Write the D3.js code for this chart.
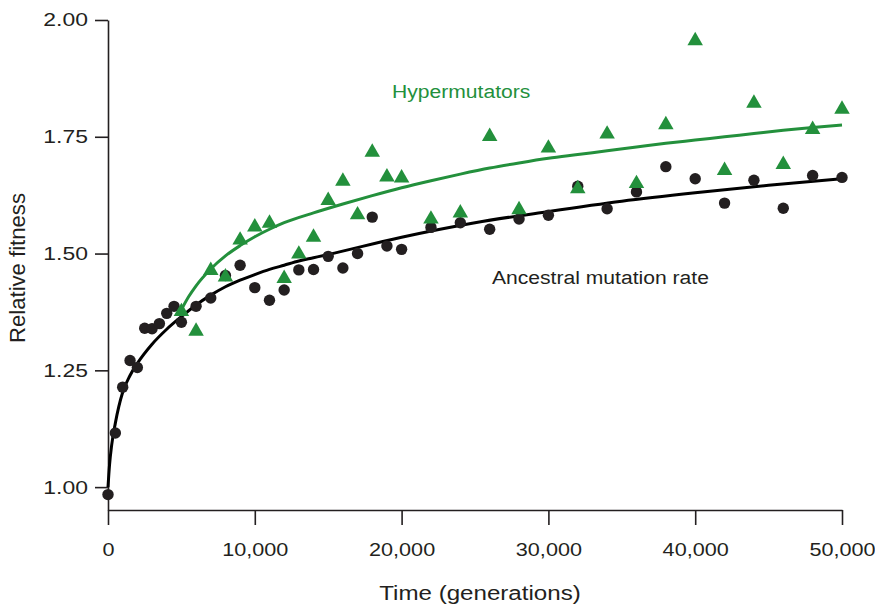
<!DOCTYPE html>
<html>
<head>
<meta charset="utf-8">
<script src="https://cdn.jsdelivr.net/npm/d3@7"></script>
<style>
  html, body { margin: 0; padding: 0; background: #fff; }
  svg { display: block; }
  text { font-family: "Liberation Sans", Arial, Helvetica, sans-serif; }
</style>
</head>
<body>
<svg id="chart" width="875" height="606"></svg>
<script>
// ---------- data ----------
const ancestralGen = [0,500,1000,1500,2000,2500,3000,3500,4000,4500,5000,6000,7000,8000,9000,10000,11000,12000,13000,14000,15000,16000,17000,18000,19000,20000,22000,24000,26000,28000,30000,32000,34000,36000,38000,40000,42000,44000,46000,48000,50000];
const ancestralFit = [0.984,1.116,1.214,1.271,1.256,1.340,1.339,1.350,1.372,1.387,1.353,1.387,1.405,1.453,1.475,1.427,1.400,1.422,1.465,1.466,1.494,1.469,1.500,1.578,1.516,1.509,1.556,1.566,1.552,1.574,1.582,1.644,1.596,1.632,1.686,1.660,1.608,1.657,1.597,1.667,1.663];

const hyperGen = [5000,6000,7000,8000,9000,10000,11000,12000,13000,14000,15000,16000,17000,18000,19000,20000,22000,24000,26000,28000,30000,32000,34000,36000,38000,40000,42000,44000,46000,48000,50000];
const hyperFit = [1.379,1.337,1.467,1.453,1.532,1.560,1.568,1.450,1.502,1.538,1.617,1.658,1.586,1.720,1.667,1.665,1.577,1.590,1.754,1.597,1.729,1.642,1.759,1.653,1.779,1.959,1.681,1.825,1.694,1.769,1.812];

// fitted trajectories
const ancestralCurveGen = [0,100,250,500,1000,1500,2000,3000,4000,5000,6000,7000,8000,9000,10000,11000,12000,13000,14000,15000,20000,25000,30000,35000,40000,45000,50000];
const ancestralCurveFit = [1.0,1.046,1.09,1.137,1.203,1.239,1.265,1.306,1.338,1.365,1.390,1.411,1.429,1.443,1.455,1.466,1.475,1.484,1.491,1.498,1.535,1.566,1.590,1.612,1.630,1.646,1.660];

const hyperCurveGen = [5000,5500,6000,7000,8000,9000,10000,11000,12000,14000,16000,18000,20000,22000,24000,26000,28000,30000,32000,34000,36000,38000,40000,42000,44000,46000,48000,50000];
const hyperCurveFit = [1.380,1.408,1.431,1.467,1.495,1.517,1.536,1.552,1.566,1.587,1.606,1.624,1.641,1.656,1.670,1.683,1.694,1.704,1.712,1.720,1.728,1.736,1.743,1.750,1.757,1.764,1.770,1.775];

const xTicks = [0,10000,20000,30000,40000,50000];
const yTicks = [1.00,1.25,1.50,1.75,2.00];

// ---------- layout ----------
const GREEN = "#23903c";
const BLACK = "#231f20";
const SX = 1.15;   // horizontal widening of the reference's lettering
const SXY = 1.24;  // y tick labels

const svg = d3.select("#chart");
const x = d3.scaleLinear().domain([0, 50000]).range([108, 842]);
const y = d3.scaleLinear().domain([0.951, 2.0]).range([510, 20]);

// axes
const yAxis = svg.append("g")
  .attr("transform", "translate(108,0)")
  .call(d3.axisLeft(y).tickValues(yTicks).tickFormat(d3.format(".2f"))
        .tickSize(13).tickSizeOuter(0).tickPadding(7));
yAxis.selectAll("text")
  .attr("x", 0)
  .attr("transform", "translate(-20,0) scale(" + SXY + ",1)")
  .attr("font-size", 18.5).attr("fill", BLACK)
  .attr("font-family", "Liberation Sans, Arial, sans-serif");

const xAxis = svg.append("g")
  .attr("transform", "translate(0,510)")
  .call(d3.axisBottom(x).tickValues(xTicks).tickFormat(d3.format(","))
        .tickSize(15).tickSizeOuter(0).tickPadding(18));
xAxis.selectAll("text")
  .attr("transform", "scale(1.17,1)")
  .attr("font-size", 18.5).attr("fill", BLACK)
  .attr("font-family", "Liberation Sans, Arial, sans-serif");

svg.selectAll(".domain, .tick line").attr("stroke", BLACK).attr("stroke-width", 1.6);

// curves
const line = d3.line().x(d => x(d[0])).y(d => y(d[1])).curve(d3.curveMonotoneX);
svg.append("path")
  .datum(d3.zip(ancestralCurveGen, ancestralCurveFit))
  .attr("d", line).attr("fill", "none").attr("stroke", "#000").attr("stroke-width", 3);
svg.append("path")
  .datum(d3.zip(hyperCurveGen, hyperCurveFit))
  .attr("d", line).attr("fill", "none").attr("stroke", GREEN).attr("stroke-width", 3);

// points
svg.append("g").selectAll("circle")
  .data(d3.zip(ancestralGen, ancestralFit))
  .join("circle")
  .attr("cx", d => x(d[0])).attr("cy", d => y(d[1]))
  .attr("r", 5.7).attr("fill", BLACK);

const tri = d3.symbol().type(d3.symbolTriangle).size(104);
svg.append("g").selectAll("path")
  .data(d3.zip(hyperGen, hyperFit))
  .join("path")
  .attr("d", tri)
  .attr("transform", d => `translate(${x(d[0])},${y(d[1]) + 1.5})`)
  .attr("fill", GREEN);

// labels
function label(tx, ty, str, size, color, anchor, sx) {
  svg.append("g").attr("transform", `translate(${tx},${ty}) scale(${sx},1)`)
    .append("text").attr("x", 0).attr("y", 0)
    .attr("text-anchor", anchor).attr("font-size", size).attr("fill", color)
    .text(str);
}
label(392, 98, "Hypermutators", 18.6, GREEN, "start", 1.135);
label(492, 284, "Ancestral mutation rate", 18.6, BLACK, "start", 1.135);
label(480, 600, "Time (generations)", 21, BLACK, "middle", SX);

svg.append("text")
  .attr("transform", "translate(25,268) rotate(-90)")
  .attr("text-anchor", "middle").attr("font-size", 22).attr("fill", BLACK)
  .attr("textLength", 150).attr("lengthAdjust", "spacingAndGlyphs")
  .text("Relative fitness");
</script>
</body>
</html>
